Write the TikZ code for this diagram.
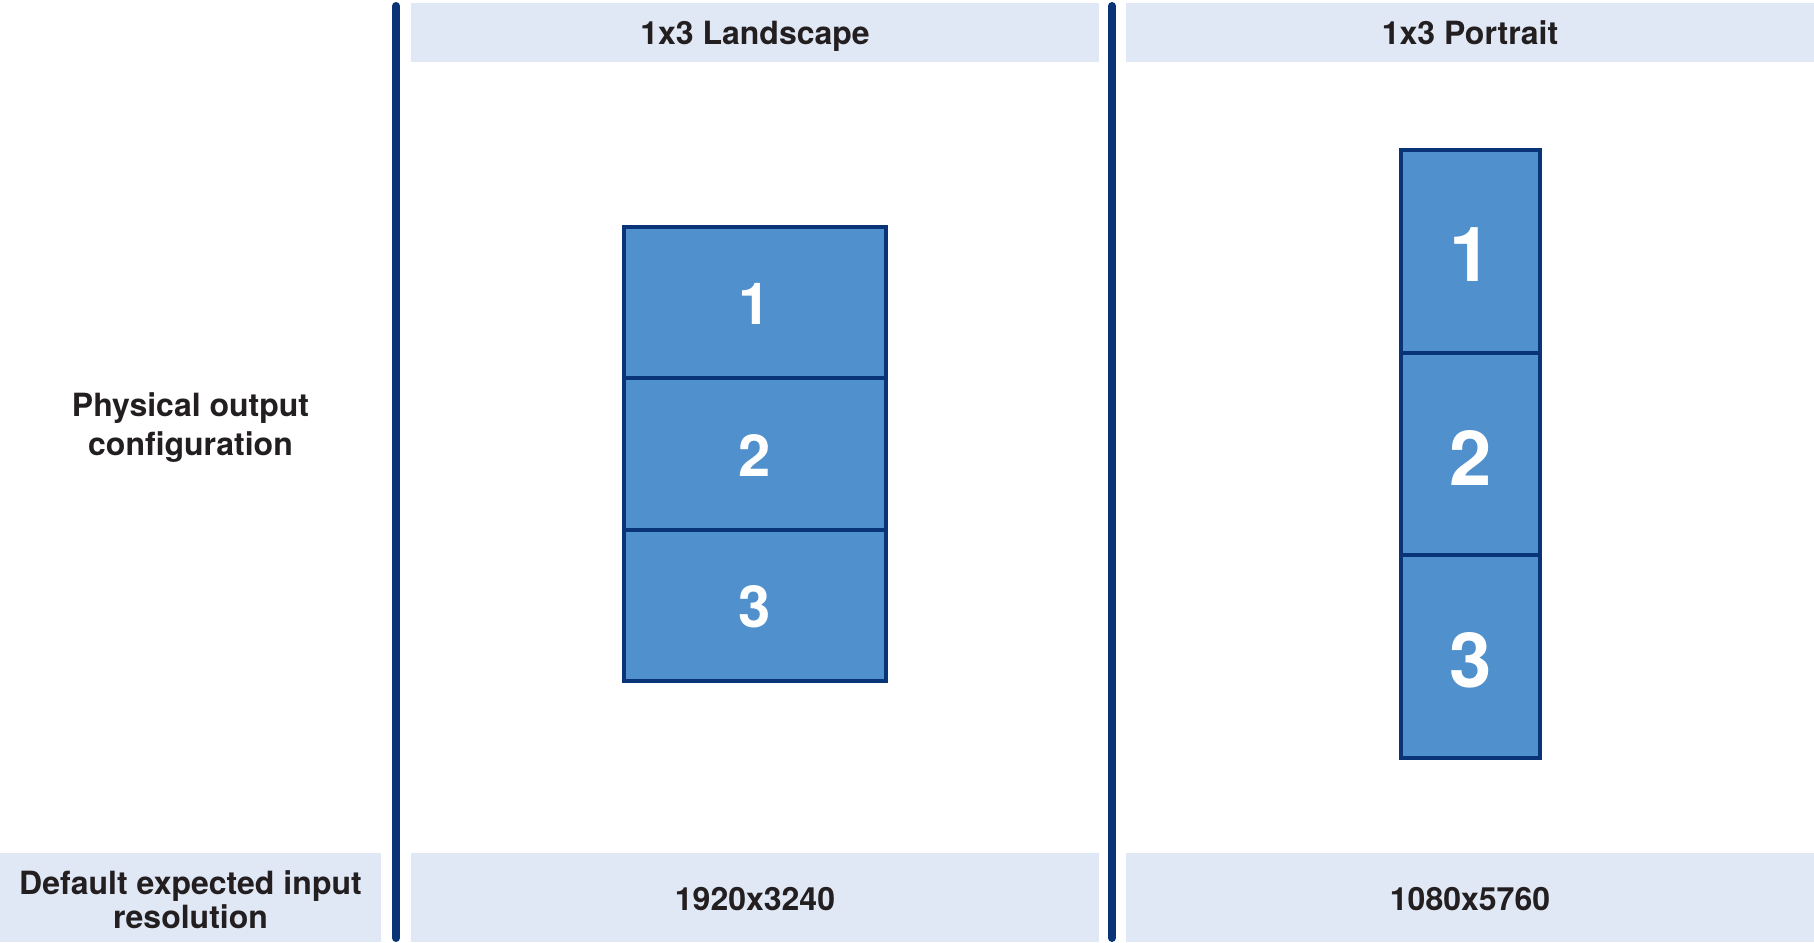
\documentclass[tikz,border=0pt]{standalone}
\usepackage{fontspec}
\setmainfont{TeX Gyre Heros}
\definecolor{hdrfill}{HTML}{E1E8F5}
\definecolor{panefill}{HTML}{5090CC}
\definecolor{navy}{HTML}{0A3478}
\definecolor{txt}{HTML}{231F20}
\tikzset{
  cell/.style={fill=hdrfill, draw=none, inner sep=0pt, outer sep=0pt, anchor=north west},
  celltext/.style={text=txt, font=\fontsize{32}{34.5}\selectfont\bfseries, align=center, inner sep=0pt},
  pane/.style={fill=panefill, draw=navy, line width=4pt, inner sep=0pt, outer sep=0pt},
  panetext/.style={text=white, font=\fontsize{58}{60}\selectfont\bfseries, inner sep=0pt},
  tallpanetext/.style={text=white, font=\fontsize{76}{78}\selectfont\bfseries, inner sep=0pt},
  sepline/.style={draw=navy, line width=8pt, line cap=round},
  lbl/.style={text=txt, font=\fontsize{32}{39}\selectfont\bfseries, align=center, inner sep=0pt}
}
\begin{document}
\begin{tikzpicture}[x=1pt,y=-1pt]
\useasboundingbox[fill=white] (0,0) rectangle (1814,942);
% header cells
\node[cell, minimum width=688pt, minimum height=59pt] (h1) at (411,3.5) {};
\node[cell, minimum width=688pt, minimum height=59pt] (h2) at (1126,3.5) {};
\node[celltext, anchor=base] (h1t) at (h1.center |- 0,45) {1x3 Landscape};
\node[celltext, anchor=base] (h2t) at (h2.center |- 0,45) {1x3 Portrait};
% bottom row cells
\node[cell, minimum width=381pt, minimum height=89pt] (b0) at (0,853) {};
\node[cell, minimum width=688pt, minimum height=89pt] (b1) at (411,853) {};
\node[cell, minimum width=688pt, minimum height=89pt] (b2) at (1126,853) {};
\node[celltext, yshift=-2pt] (b0t) at (b0.center) {Default expected input\\resolution};
\node[celltext, yshift=-1.5pt] (b1t) at (b1.center) {1920x3240};
\node[celltext, yshift=-1.5pt] (b2t) at (b2.center) {1080x5760};
% row label
\node[lbl] (rowlbl) at (190.5,428) {Physical output\\configuration};
% separators
\coordinate (s1t) at (396,6);
\coordinate (s1b) at (396,938);
\coordinate (s2t) at (1112,6);
\coordinate (s2b) at (1112,938);
\draw[sepline] (s1t) -- (s1b);
\draw[sepline] (s2t) -- (s2b);
% landscape panes
\node[pane, minimum width=262pt, minimum height=151.33pt] (l1) at (755,302.67) {};
\node[pane, minimum width=262pt, minimum height=151.33pt] (l2) at (755,454) {};
\node[pane, minimum width=262pt, minimum height=151.33pt] (l3) at (755,605.33) {};
\node[panetext, yshift=-1.5pt] (l1t) at (l1.center) {1};
\node[panetext, yshift=-1.5pt] (l2t) at (l2.center) {2};
\node[panetext, yshift=-1.5pt] (l3t) at (l3.center) {3};
% portrait panes
\node[pane, minimum width=139pt, minimum height=202.67pt] (p1) at (1470.5,251.33) {};
\node[pane, minimum width=139pt, minimum height=202.67pt] (p2) at (1470.5,454) {};
\node[pane, minimum width=139pt, minimum height=202.67pt] (p3) at (1470.5,656.67) {};
\node[tallpanetext, yshift=-3.5pt] (p1t) at (p1.center) {1};
\node[tallpanetext, yshift=-3.5pt] (p2t) at (p2.center) {2};
\node[tallpanetext, yshift=-3.5pt] (p3t) at (p3.center) {3};
\end{tikzpicture}
\end{document}
